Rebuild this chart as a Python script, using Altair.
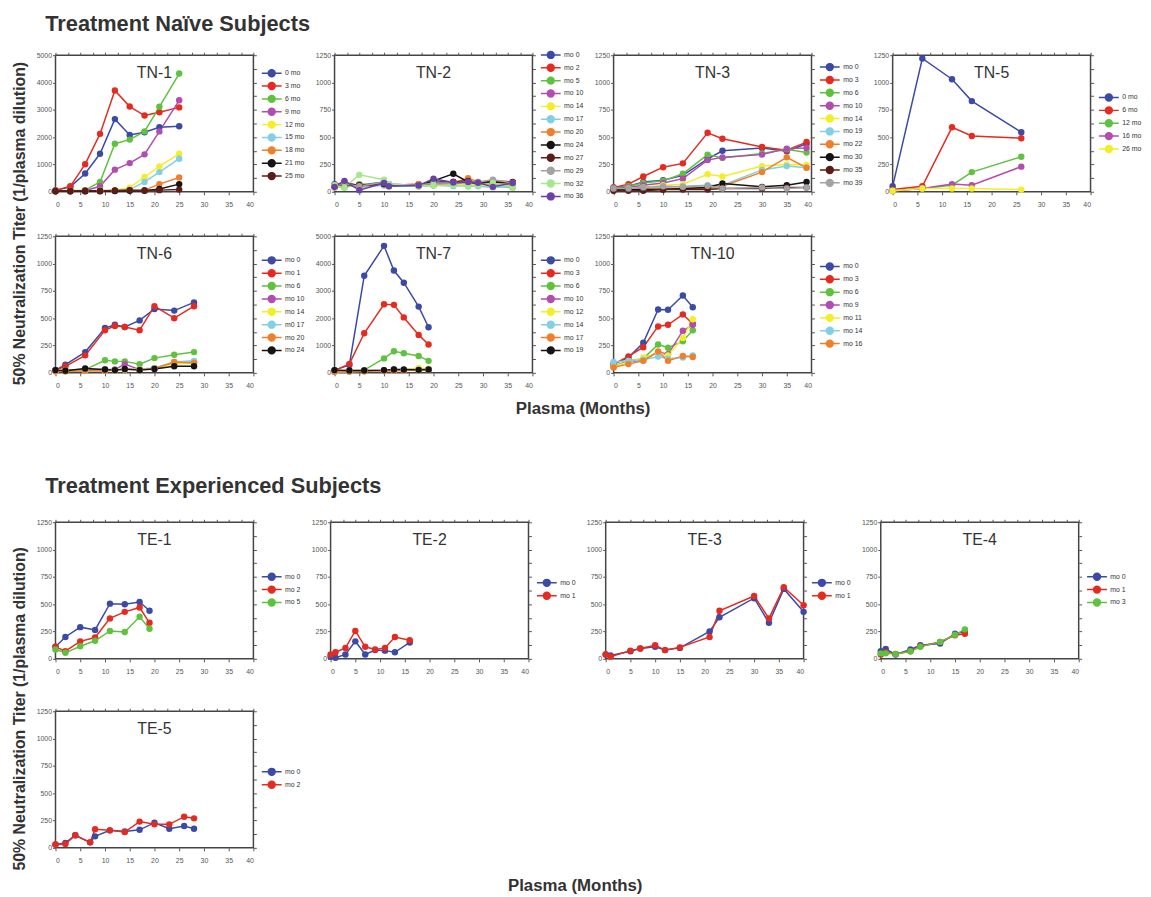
import altair as alt
import pandas as pd

# ---------------- data ----------------
tn1_x = [0, 3, 6, 9, 12, 15, 18, 21, 25]
tn1_labels = ["0 mo", "3 mo", "6 mo", "9 mo", "12 mo", "15 mo", "18 mo", "21 mo", "25 mo"]
tn1_vals = [
    [50, 180, 670, 1390, 2660, 2080, 2180, 2360, 2400],
    [50, 200, 1010, 2120, 3710, 3120, 2790, 2910, 3090],
    [30, 40, 60, 360, 1760, 1910, 2210, 3110, 4330],
    [20, 30, 40, 200, 810, 1050, 1370, 2210, 3350],
    [20, 20, 30, 50, 60, 150, 540, 930, 1390],
    [20, 20, 20, 40, 50, 80, 360, 720, 1210],
    [20, 20, 20, 30, 40, 60, 60, 280, 520],
    [20, 20, 20, 20, 30, 40, 40, 100, 280],
    [30, 30, 40, 40, 50, 60, 50, 60, 80],
]

tn2_x = [0, 2, 5, 10, 11, 17, 20, 24, 27, 29, 32, 36]
tn2_labels = ["mo 0", "mo 2", "mo 5", "mo 10", "mo 14", "mo 17", "mo 20", "mo 24", "mo 27", "mo 29", "mo 32", "mo 36"]
tn2_vals = [
    [70, 80, 60, 90, 70, 60, 100, 90, 80, 70, 80, 60],
    [60, 90, 50, 80, 60, 70, 80, 90, 100, 80, 70, 70],
    [50, 40, 70, 60, 50, 50, 60, 70, 50, 60, 50, 40],
    [40, 70, 40, 80, 60, 60, 80, 70, 90, 80, 60, 70],
    [40, 50, 60, 70, 60, 50, 70, 60, 70, 60, 60, 50],
    [50, 60, 40, 60, 50, 50, 60, 50, 60, 50, 40, 50],
    [50, 60, 50, 70, 60, 70, 60, 80, 125, 90, 80, 70],
    [50, 60, 60, 70, 60, 60, 100, 165, 90, 80, 90, 85],
    [50, 70, 60, 70, 60, 60, 80, 90, 100, 80, 100, 90],
    [60, 70, 50, 90, 70, 60, 80, 80, 90, 90, 110, 80],
    [60, 40, 155, 110, 70, 50, 60, 60, 50, 60, 80, 45],
    [45, 100, 15, 80, 50, 58, 120, 85, 90, 82, 45, 80],
]

tn3_x = [0, 3, 6, 10, 14, 19, 22, 30, 35, 39]
tn3_labels = ["mo 0", "mo 3", "mo 6", "mo 10", "mo 14", "mo 19", "mo 22", "mo 30", "mo 35", "mo 39"]
tn3_vals = [
    [40, 50, 90, 105, 150, 300, 375, 400, 370, 440],
    [40, 70, 140, 225, 260, 540, 485, 410, 380, 455],
    [30, 50, 80, 100, 165, 340, 310, 350, 390, 360],
    [30, 40, 60, 80, 120, 290, 315, 340, 395, 400],
    [20, 30, 40, 60, 70, 160, 140, 235, 250, 245],
    [20, 20, 30, 40, 50, 60, 60, 200, 235, 220],
    [20, 20, 20, 30, 30, 30, 50, 180, 315, 220],
    [20, 20, 20, 20, 30, 40, 75, 45, 60, 90],
    [10, 10, 10, 20, 20, 20, 30, 30, 40, 40],
    [30, 30, 40, 50, 45, 55, 30, 40, 30, 40],
]

tn5_x = [0, 6, 12, 16, 26]
tn5_labels = ["0 mo", "6 mo", "12 mo", "16 mo", "26 mo"]
tn5_vals = [
    [50, 1220, 1030, 830, 545],
    [20, 50, 590, 510, 490],
    [10, 30, 60, 180, 320],
    [10, 30, 70, 60, 230],
    [10, 30, 30, 30, 20],
]

tn6_x = [0, 2, 6, 10, 12, 14, 17, 20, 24, 28]
tn6_labels = ["mo 0", "mo 1", "mo 6", "mo 10", "mo 14", "m0 17", "mo 20", "mo 24"]
tn6_vals = [
    [25, 75, 190, 410, 440, 420, 480, 585, 570, 645],
    [25, 60, 160, 390, 430, 420, 390, 610, 500, 610],
    [20, 25, 30, 115, 105, 105, 80, 135, 165, 190],
    [20, 20, 25, 30, 30, 80, 30, 40, 90, 100],
    [15, 15, 20, 20, 25, 30, 30, 40, 80, 90],
    [15, 15, 20, 20, 25, 30, 35, 45, 100, 110],
    [15, 15, 20, 20, 25, 30, 30, 40, 100, 90],
    [25, 20, 40, 30, 25, 35, 25, 35, 60, 60],
]

tn7_x = [0, 3, 6, 10, 12, 14, 17, 19]
tn7_labels = ["mo 0", "mo 3", "mo 6", "mo 10", "mo 12", "mo 14", "mo 17", "mo 19"]
tn7_vals = [
    [100, 290, 3555, 4650, 3745, 3300, 2425, 1670],
    [80, 330, 1450, 2510, 2490, 2030, 1390, 1040],
    [60, 80, 100, 530, 790, 720, 620, 440],
    [50, 60, 80, 100, 120, 110, 120, 130],
    [40, 50, 60, 80, 100, 110, 180, 150],
    [40, 50, 60, 70, 90, 100, 110, 120],
    [40, 50, 60, 70, 80, 90, 100, 110],
    [100, 90, 90, 100, 120, 120, 110, 120],
]

tn10_x = [0, 3, 6, 9, 11, 14, 16]
tn10_labels = ["mo 0", "mo 3", "mo 6", "mo 9", "mo 11", "mo 14", "mo 16"]
tn10_vals = [
    [80, 140, 275, 580, 577, 708, 600],
    [80, 150, 235, 425, 440, 535, 450],
    [60, 110, 130, 260, 230, 290, 390],
    [60, 100, 120, 190, 170, 385, 440],
    [60, 100, 140, 180, 160, 320, 490],
    [100, 110, 120, 150, 130, 140, 160],
    [50, 80, 110, 195, 110, 155, 145],
]

te1_x = [0, 2, 5, 8, 11, 14, 17, 19]
te1_labels = ["mo 0", "mo 2", "mo 5"]
te1_vals = [
    [110, 200, 290, 265, 505, 500, 520, 440],
    [110, 70, 160, 195, 370, 430, 470, 330],
    [85, 55, 115, 165, 255, 245, 385, 275],
]

te2_x = [0, 1, 3, 5, 7, 9, 11, 13, 16]
te2_labels = ["mo 0", "mo 1"]
te2_vals = [
    [20, 10, 40, 160, 40, 80, 75, 60, 150],
    [40, 60, 100, 255, 110, 85, 100, 200, 170],
]

te3_x = [0, 1, 5, 7, 10, 12, 15, 21, 23, 30, 33, 36, 40]
te3_labels = ["mo 0", "mo 1"]
te3_vals = [
    [40, 30, 70, 95, 110, 80, 100, 250, 380, 555, 330, 640, 430],
    [40, 20, 75, 95, 125, 80, 105, 200, 440, 575, 370, 655, 490],
]

te4_x = [0, 1, 3, 6, 8, 12, 15, 17]
te4_labels = ["mo 0", "mo 1", "mo 3"]
te4_vals = [
    [70, 90, 40, 85, 125, 140, 230, 250],
    [40, 60, 45, 70, 115, 155, 215, 230],
    [50, 50, 45, 70, 110, 155, 220, 270],
]

te5_x = [0, 2, 4, 7, 8, 11, 14, 17, 20, 23, 26, 28]
te5_labels = ["mo 0", "mo 2"]
te5_vals = [
    [30, 45, 115, 50, 105, 160, 150, 165, 230, 175, 200, 175],
    [30, 35, 115, 50, 170, 160, 145, 240, 215, 215, 285, 270],
]

# ---------------- style ----------------
PALETTE = ["#3b4aa6", "#e52b20", "#5fc23e", "#b24db0", "#f3ee2a", "#82cfe6",
           "#f07f2c", "#141414", "#5e1c16", "#a3a3a3", "#a6e68e", "#6a42a6"]
FONT = "Liberation Sans"
W = 200
SYMBOL = "M-2.86,0H2.86M-1,0A1,1,0,1,1,1,0A1,1,0,1,1,-1,0Z"
ROWH = 12.3


def panel(name, xs, labels, vals, ymax, H):
    rows = []
    for lab, v in zip(labels, vals):
        for x, y in zip(xs, v):
            rows.append({"x": x, "y": y, "series": lab})
    df = pd.DataFrame(rows)
    n = len(labels)
    step = ymax / 5
    legend = alt.Legend(
        title=None, orient="none", legendX=W + 14, legendY=(H - n * ROWH) / 2,
        symbolType=SYMBOL, symbolSize=49, symbolStrokeWidth=1.5,
        labelFontSize=7, labelOffset=9, rowPadding=0, labelColor="#333",
        labelFont=FONT,
    )
    color = alt.Color("series:N", sort=labels,
                      scale=alt.Scale(domain=labels, range=PALETTE[:n]),
                      legend=legend)
    xs_ = alt.Scale(domain=[0, 40], nice=False)
    ys_ = alt.Scale(domain=[0, ymax], nice=False)
    xb = alt.X("x:Q", scale=xs_, axis=alt.Axis(values=list(range(0, 41, 5)), title=None,
                                                labelPadding=6))
    yb = alt.Y("y:Q", scale=ys_, axis=alt.Axis(values=[int(step * i) for i in range(6)],
                                                title=None, labelPadding=1, format="d"))
    xt = alt.X("x:Q", scale=xs_, axis=alt.Axis(orient="top", labels=False, title=None,
                                                values=[2.5 * i for i in range(17)]))
    yr = alt.Y("y:Q", scale=ys_, axis=alt.Axis(orient="right", labels=False, title=None,
                                                values=[step / 2 * i for i in range(11)]))
    line = alt.Chart(df).mark_line(strokeWidth=1.5).encode(x=xb, y=yb, color=color)
    pts = alt.Chart(df).mark_point(filled=True, size=42, opacity=1).encode(
        x=xt, y=yr, color=color)
    ttl = alt.Chart(pd.DataFrame({"t": [name]})).mark_text(
        fontSize=16, font=FONT, color="#333", baseline="alphabetic", align="center"
    ).encode(text="t:N", x=alt.value(W / 2), y=alt.value(23))
    return alt.layer(line, pts, ttl).resolve_axis(
        x="independent", y="independent").properties(width=W, height=H)


YLAB = "50% Neutralization Titer (1/plasma dilution)"


def section(title, panels, rowsp, ydx, toff, boff):
    grid = alt.concat(*panels, columns=4, spacing={"row": rowsp, "column": 8}).resolve_scale(
        color="independent").properties(
        title=alt.TitleParams(YLAB, orient="left", anchor="middle", fontSize=16,
                              fontWeight="bold", font=FONT, color="#333", offset=8, dx=ydx))
    mid = alt.vconcat(grid).resolve_scale(color="independent").properties(
        title=alt.TitleParams("Plasma (Months)", orient="bottom", anchor="middle",
                              fontSize=17, fontWeight="bold", font=FONT, color="#333",
                              offset=boff, dx=6))
    return alt.vconcat(mid).resolve_scale(color="independent").properties(
        title=alt.TitleParams(title, anchor="start", fontSize=22, fontWeight="bold",
                              font=FONT, color="#333", offset=toff, dx=34))


HN = 138
HE = 138
tn = section("Treatment Naïve Subjects", [
    panel("TN-1", tn1_x, tn1_labels, tn1_vals, 5000, HN),
    panel("TN-2", tn2_x, tn2_labels, tn2_vals, 1250, HN),
    panel("TN-3", tn3_x, tn3_labels, tn3_vals, 1250, HN),
    panel("TN-5", tn5_x, tn5_labels, tn5_vals, 1250, HN),
    panel("TN-6", tn6_x, tn6_labels, tn6_vals, 1250, HN),
    panel("TN-7", tn7_x, tn7_labels, tn7_vals, 5000, HN),
    panel("TN-10", tn10_x, tn10_labels, tn10_vals, 1250, HN),
], 23, -4, 14, 12)
te = section("Treatment Experienced Subjects", [
    panel("TE-1", te1_x, te1_labels, te1_vals, 1250, HE),
    panel("TE-2", te2_x, te2_labels, te2_vals, 1250, HE),
    panel("TE-3", te3_x, te3_labels, te3_vals, 1250, HE),
    panel("TE-4", te4_x, te4_labels, te4_vals, 1250, HE),
    panel("TE-5", te5_x, te5_labels, te5_vals, 1250, HE),
], 31, -18, 20, 8)

chart = alt.vconcat(tn, te, spacing=58).resolve_scale(color="independent").properties(
    padding={"left": 3, "top": 0, "right": 0, "bottom": 0}
).configure(font=FONT, background="white").configure_view(
    stroke="#444", strokeWidth=1.5
).configure_axis(
    labelFontSize=7, labelColor="#555", labelFont=FONT, tickColor="#555", tickSize=3,
    domain=False, grid=False,
)

chart.save("out.html", embed_options={"renderer": "svg", "actions": False})
